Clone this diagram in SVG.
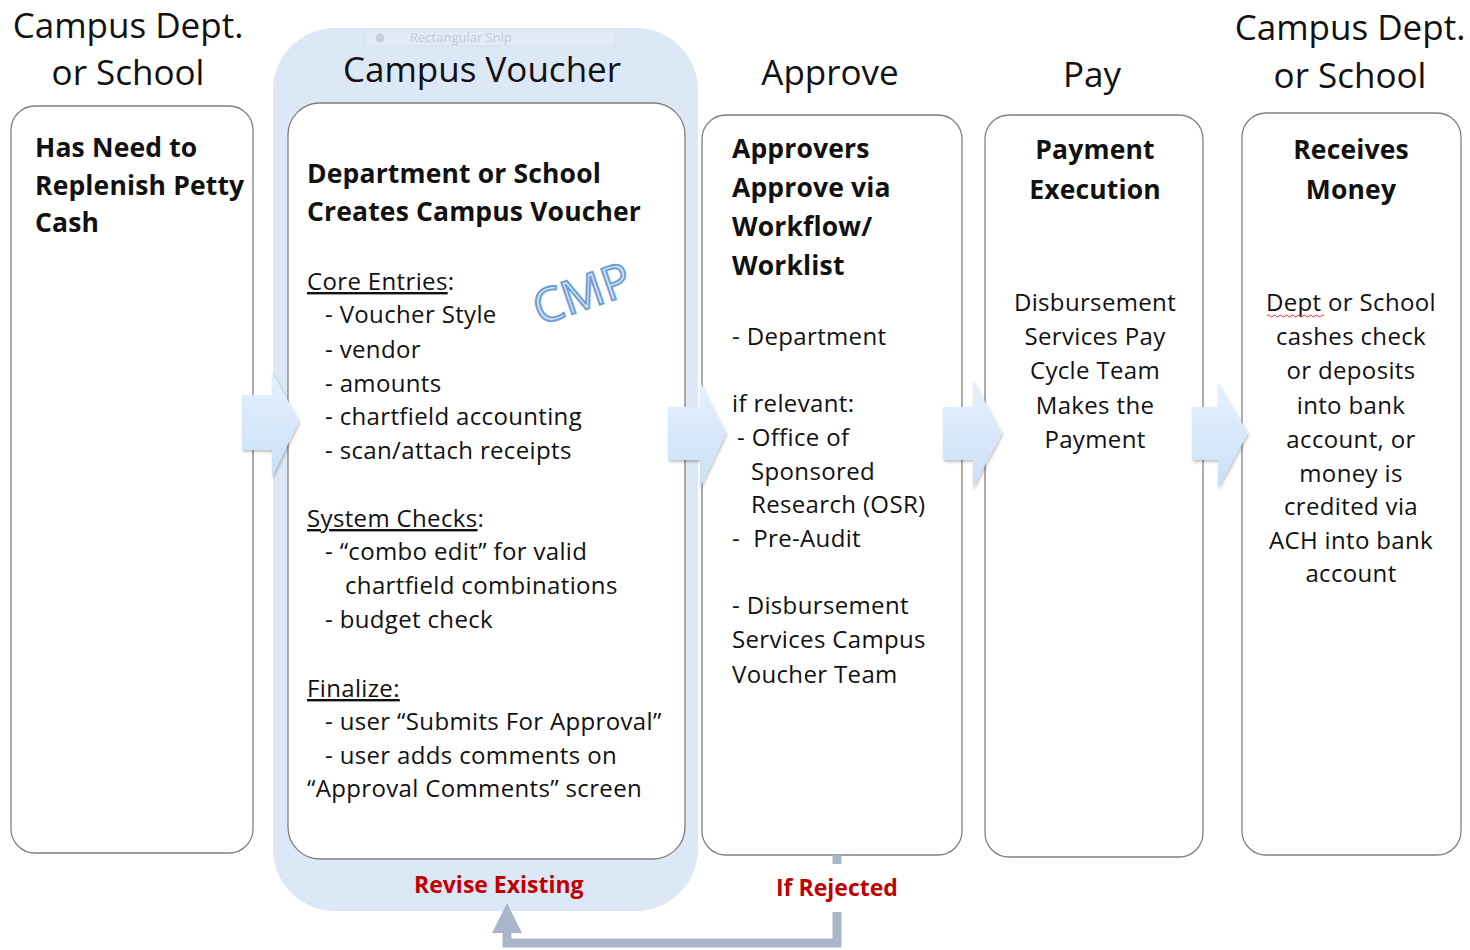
<svg xmlns="http://www.w3.org/2000/svg" width="1470" height="950" viewBox="0 0 1470 950">
<defs>
<linearGradient id="ag" x1="0" y1="0" x2="0" y2="1">
<stop offset="0" stop-color="#e6f1fd"/>
<stop offset="1" stop-color="#c9dff7"/>
</linearGradient>
<filter id="sh" x="-20%" y="-20%" width="140%" height="140%">
<feGaussianBlur in="SourceAlpha" stdDeviation="1.5"/>
<feOffset dx="1" dy="2"/>
<feComponentTransfer><feFuncA type="linear" slope="0.25"/></feComponentTransfer>
<feMerge><feMergeNode/><feMergeNode in="SourceGraphic"/></feMerge>
</filter>
</defs>
<style>
text{font-family:"Open Sans",Lato,"Liberation Sans",sans-serif;fill:#111}
.hd{font-size:35px}
.b{font-size:26.5px;font-weight:bold;letter-spacing:0.15px}
.t{font-size:24px;letter-spacing:0.35px}
.c{text-anchor:middle}
.u{text-decoration:underline}
.box{fill:#fff;stroke:#808080;stroke-width:1.3}
.arr{fill:url(#ag);filter:url(#sh)}
.red{font-size:23px;font-weight:bold;fill:#c00000}
.fb{fill:none;stroke:#a9b6c9;stroke-width:9}
</style>

<rect x="273" y="28" width="425" height="883" rx="62" fill="#dce8f5"/>
<g opacity="0.35">
<rect x="365" y="30" width="250" height="16" fill="#eef2f6" stroke="#c8d0d8" stroke-width="0.8"/>
<circle cx="380" cy="38" r="4.5" fill="#9aa4ae"/>
<text x="410" y="42" style="font-size:13px;fill:#8a94a0">Rectangular Snip</text>
</g>

<g id="headers">
<text class="hd c" x="128" y="38">Campus Dept.</text>
<text class="hd c" x="128" y="85">or School</text>
<text class="hd c" x="482" y="82">Campus Voucher</text>
<text class="hd c" x="830" y="85">Approve</text>
<text class="hd c" x="1092" y="87">Pay</text>
<text class="hd c" x="1350" y="40">Campus Dept.</text>
<text class="hd c" x="1350" y="88">or School</text>
</g>

<g id="node-need">
<rect class="box" x="11" y="106" width="242" height="747" rx="24"/>
<text class="b" x="35" y="157">Has Need to</text>
<text class="b" x="35" y="195">Replenish Petty</text>
<text class="b" x="35" y="232">Cash</text>
</g>

<g id="node-voucher">
<rect class="box" x="288" y="103" width="397" height="756" rx="32"/>
<text class="b" x="307" y="183">Department or School</text>
<text class="b" x="307" y="221">Creates Campus Voucher</text>
<text class="t" x="307" y="290"><tspan class="u">Core Entries</tspan>:</text>
<text class="t" x="325" y="323">- Voucher Style</text>
<text class="t" x="325" y="358">- vendor</text>
<text class="t" x="325" y="392">- amounts</text>
<text class="t" x="325" y="425">- chartfield accounting</text>
<text class="t" x="325" y="459">- scan/attach receipts</text>
<text class="t" x="307" y="527"><tspan class="u">System Checks</tspan>:</text>
<text class="t" x="325" y="560">- “combo edit” for valid</text>
<text class="t" x="345" y="594">chartfield combinations</text>
<text class="t" x="325" y="628">- budget check</text>
<text class="t u" x="307" y="697">Finalize:</text>
<text class="t" x="325" y="730">- user “Submits For Approval”</text>
<text class="t" x="325" y="764">- user adds comments on</text>
<text class="t" x="307" y="797">“Approval Comments” screen</text>
<text x="582" y="310" transform="rotate(-19 582 294)" text-anchor="middle" style="font-size:47px;fill:#d8e1ec;stroke:#6c9fd8;stroke-width:1.9;font-family:'Open Sans',sans-serif">CMP</text>
</g>

<g id="node-approve">
<rect class="box" x="702" y="115" width="260" height="740" rx="24"/>
<text class="b" x="732" y="158">Approvers</text>
<text class="b" x="732" y="197">Approve via</text>
<text class="b" x="732" y="236">Workflow/</text>
<text class="b" x="732" y="275">Worklist</text>
<text class="t" x="732" y="345">- Department</text>
<text class="t" x="732" y="412">if relevant:</text>
<text class="t" x="737" y="446">- Office of</text>
<text class="t" x="751" y="480">Sponsored</text>
<text class="t" x="751" y="513">Research (OSR)</text>
<text class="t" x="732" y="547" xml:space="preserve">-  Pre-Audit</text>
<text class="t" x="732" y="614">- Disbursement</text>
<text class="t" x="732" y="648">Services Campus</text>
<text class="t" x="732" y="683">Voucher Team</text>
</g>

<g id="node-pay">
<rect class="box" x="985" y="115" width="218" height="742" rx="24"/>
<text class="b c" x="1095" y="159">Payment</text>
<text class="b c" x="1095" y="199">Execution</text>
<text class="t c" x="1095" y="311">Disbursement</text>
<text class="t c" x="1095" y="345">Services Pay</text>
<text class="t c" x="1095" y="379">Cycle Team</text>
<text class="t c" x="1095" y="414">Makes the</text>
<text class="t c" x="1095" y="448">Payment</text>
</g>

<g id="node-receive">
<rect class="box" x="1242" y="113" width="219" height="742" rx="24"/>
<text class="b c" x="1351" y="159">Receives</text>
<text class="b c" x="1351" y="199">Money</text>
<text class="t c" x="1351" y="311">Dept or School</text>
<path d="M1267 316 q1.5 -2 3 0 t3 0 t3 0 t3 0 t3 0 t3 0 t3 0 t3 0 t3 0 t3 0 t3 0 t3 0 t3 0 t3 0 t3 0 t3 0 t3 0 t3 0 t3 0" fill="none" stroke="#e03030" stroke-width="1"/>
<text class="t c" x="1351" y="345">cashes check</text>
<text class="t c" x="1351" y="379">or deposits</text>
<text class="t c" x="1351" y="414">into bank</text>
<text class="t c" x="1351" y="448">account, or</text>
<text class="t c" x="1351" y="482">money is</text>
<text class="t c" x="1351" y="515">credited via</text>
<text class="t c" x="1351" y="549">ACH into bank</text>
<text class="t c" x="1351" y="582">account</text>
</g>

<g id="connectors">
<path class="arr" d="M242 395 H272 V372 L299 421 L272 477 V450 H242 Z"/>
<path class="arr" d="M668 407 H700 V382 L726 433 L700 488 V460 H668 Z"/>
<path class="arr" d="M943 407 H973 V380 L1002 433 L973 488 V460 H943 Z"/>
<path class="arr" d="M1192 407 H1218 V383 L1248 433 L1218 488 V460 H1192 Z"/>
<path class="fb" d="M837 855 V864"/>
<path class="fb" d="M837 912 V943 H507 V928"/>
<polygon points="492,933 522,933 507,903" fill="#a9b6c9"/>
<text class="red" x="414" y="893">Revise Existing</text>
<text class="red" x="776" y="896">If Rejected</text>
</g>
</svg>
